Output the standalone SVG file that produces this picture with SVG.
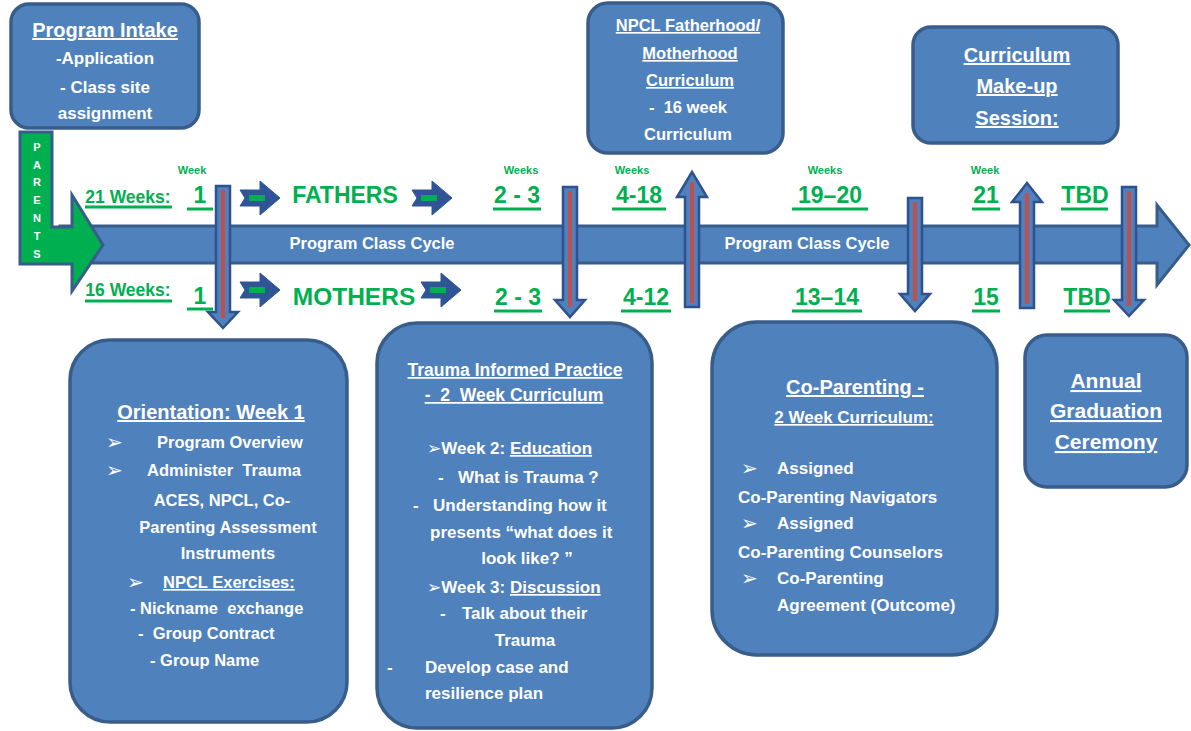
<svg xmlns="http://www.w3.org/2000/svg" width="1191" height="731" viewBox="0 0 1191 731">
<style>
.box{fill:#4f81bd;stroke:#385d8a;stroke-width:3.5}
.bt{font-family:"Liberation Sans",Arial,sans-serif;font-weight:bold;fill:#fff}
.u{text-decoration:underline}
.gl{font-family:"Liberation Sans",Arial,sans-serif;font-weight:bold;fill:#00b050}
.ul{stroke:#00b050;stroke-width:3}
.va{fill:#4f81bd;stroke:#2f528f;stroke-width:2.5}
.rl{stroke:#c0504d;stroke-width:4}
.sym{font-family:"DejaVu Sans",sans-serif;font-weight:normal}
.pre{white-space:pre}
</style>
<defs>
<g id="chev">
<path d="M0,-8 L20,-8 L20,-17 L40,0 L20,17 L20,8 L0,8 L5,0 Z" fill="#2f5597" stroke="#2f5597" stroke-width="1"/>
<rect x="9" y="-3" width="16" height="6" fill="#00b050"/>
</g>
</defs>
<rect width="1191" height="731" fill="#fff"/>

<g id="timeline">
<path d="M60,226 L1157,226 L1157,205 L1189,245 L1157,285 L1157,263 L60,263 Z" fill="#4f81bd" stroke="#385d8a" stroke-width="3"/>
<text class="bt" x="372" y="249" font-size="16.5" text-anchor="middle">Program Class Cycle</text>
<text class="bt" x="807" y="249" font-size="16.5" text-anchor="middle">Program Class Cycle</text>
</g>

<g id="parents">
<path d="M20,132 L52,132 L52,227 L72,227 L72,195 L103,245 L72,291 L72,264 L20,264 Z" fill="#00b050" stroke="#385d8a" stroke-width="3"/>
<g class="bt" font-size="11" text-anchor="middle">
<text x="37" y="151">P</text><text x="37" y="169">A</text><text x="37" y="186">R</text><text x="37" y="204">E</text><text x="37" y="222">N</text><text x="37" y="240">T</text><text x="37" y="258">S</text>
</g>
</g>

<g id="intake">
<rect class="box" x="11" y="4" width="188" height="124" rx="18"/>
<g class="bt" text-anchor="middle">
<text class="u" x="105" y="37" font-size="20">Program Intake</text>
<text x="105" y="64" font-size="17">-Application</text>
<text x="105" y="93" font-size="17">- Class site</text>
<text x="105" y="119" font-size="17">assignment</text>
</g>
</g>

<g id="npcl">
<rect class="box" x="588" y="3" width="195" height="150" rx="20"/>
<g class="bt" text-anchor="middle" font-size="16.5">
<text class="u" x="688" y="31">NPCL Fatherhood/</text>
<text class="u" x="690" y="59">Motherhood</text>
<text class="u" x="690" y="86">Curriculum</text>
<text class="pre" x="688" y="113" xml:space="preserve">-  16 week</text>
<text x="688" y="140">Curriculum</text>
</g>
</g>

<g id="makeup">
<rect class="box" x="913" y="27" width="205" height="116" rx="18"/>
<g class="bt" text-anchor="middle" font-size="20">
<text class="u" x="1017" y="62">Curriculum</text>
<text class="u" x="1017" y="93">Make-up</text>
<text class="u" x="1017" y="125">Session:</text>
</g>
</g>

<g id="labels">
<text class="gl" x="192" y="174" font-size="11" text-anchor="middle">Week</text>
<text class="gl" x="521" y="174" font-size="11" text-anchor="middle">Weeks</text>
<text class="gl" x="632" y="174" font-size="11" text-anchor="middle">Weeks</text>
<text class="gl" x="825" y="174" font-size="11" text-anchor="middle">Weeks</text>
<text class="gl" x="985" y="174" font-size="11" text-anchor="middle">Week</text>

<text class="gl" x="128" y="203" font-size="17.5" text-anchor="middle">21 Weeks:</text>
<text class="gl" x="200" y="203" font-size="23" text-anchor="middle">1</text>
<text class="gl" x="345" y="203" font-size="23" text-anchor="middle">FATHERS</text>
<text class="gl" x="517" y="203" font-size="23" text-anchor="middle">2 - 3</text>
<text class="gl" x="639" y="203" font-size="23" text-anchor="middle">4-18</text>
<text class="gl" x="830" y="203" font-size="23" text-anchor="middle">19–20</text>
<text class="gl" x="986" y="203" font-size="23" text-anchor="middle">21</text>
<text class="gl" x="1085" y="203" font-size="23" text-anchor="middle">TBD</text>

<text class="gl" x="128" y="296" font-size="17.5" text-anchor="middle">16 Weeks:</text>
<text class="gl" x="200" y="304" font-size="23" text-anchor="middle">1</text>
<text class="gl" x="354" y="305" font-size="24.5" text-anchor="middle">MOTHERS</text>
<text class="gl" x="518" y="305" font-size="23" text-anchor="middle">2 - 3</text>
<text class="gl" x="646" y="305" font-size="23" text-anchor="middle">4-12</text>
<text class="gl" x="827" y="305" font-size="23" text-anchor="middle">13–14</text>
<text class="gl" x="986" y="305" font-size="23" text-anchor="middle">15</text>
<text class="gl" x="1087" y="305" font-size="23" text-anchor="middle">TBD</text>

<g class="ul">
<line x1="85" y1="207" x2="172" y2="207"/>
<line x1="187" y1="209" x2="213" y2="209"/>
<line x1="493" y1="209" x2="541" y2="209"/>
<line x1="612" y1="209" x2="666" y2="209"/>
<line x1="792" y1="209" x2="868" y2="209"/>
<line x1="972" y1="209" x2="1000" y2="209"/>
<line x1="1061" y1="209" x2="1108" y2="209"/>
<line x1="85" y1="301" x2="172" y2="301"/>
<line x1="187" y1="309" x2="213" y2="309"/>
<line x1="494" y1="311" x2="542" y2="311"/>
<line x1="621" y1="311" x2="671" y2="311"/>
<line x1="792" y1="311" x2="862" y2="311"/>
<line x1="972" y1="311" x2="1000" y2="311"/>
<line x1="1064" y1="311" x2="1110" y2="311"/>
</g>
</g>

<g id="connectors">
<use href="#chev" x="240" y="198"/>
<use href="#chev" x="412" y="198"/>
<use href="#chev" x="240" y="290"/>
<use href="#chev" x="421" y="290"/>

<path class="va" d="M216,186 L230,186 L230,312 L238,312 L223,328 L208,312 L216,312 Z"/>
<line class="rl" x1="223" y1="190" x2="223" y2="318"/>
<path class="va" d="M563,187 L577,187 L577,300 L585,300 L570,317 L555,300 L563,300 Z"/>
<line class="rl" x1="570" y1="191" x2="570" y2="307"/>
<path class="va" d="M692,172 L707,197 L699,197 L699,307 L685,307 L685,197 L677,197 Z"/>
<line class="rl" x1="692" y1="182" x2="692" y2="303"/>
<path class="va" d="M908,198 L922,198 L922,294 L930,294 L915,311 L900,294 L908,294 Z"/>
<line class="rl" x1="915" y1="202" x2="915" y2="301"/>
<path class="va" d="M1027,183 L1042,202 L1034,202 L1034,308 L1020,308 L1020,202 L1012,202 Z"/>
<line class="rl" x1="1027" y1="193" x2="1027" y2="304"/>
<path class="va" d="M1122,187 L1136,187 L1136,300 L1144,300 L1129,316 L1114,300 L1122,300 Z"/>
<line class="rl" x1="1129" y1="191" x2="1129" y2="306"/>
</g>

<g id="orientation">
<rect class="box" x="70" y="340" width="277" height="382" rx="40"/>
<g class="bt" font-size="16.5">
<text class="u" x="211" y="419" font-size="20" text-anchor="middle">Orientation: Week 1</text>
<text class="sym" x="106" y="449" font-size="20">➢</text><text x="157" y="448">Program Overview</text>
<text class="sym" x="106" y="477" font-size="20">➢</text><text class="pre" x="147" y="476" xml:space="preserve">Administer  Trauma</text>
<text x="222" y="506" text-anchor="middle">ACES, NPCL, Co-</text>
<text x="228" y="533" text-anchor="middle">Parenting Assessment</text>
<text x="228" y="559" text-anchor="middle">Instruments</text>
<text class="sym" x="127" y="589" font-size="20">➢</text><text class="u" x="163" y="588">NPCL Exercises:</text>
<text class="pre" x="130" y="614" xml:space="preserve">- Nickname  exchange</text>
<text class="pre" x="138" y="639" xml:space="preserve">-  Group Contract</text>
<text x="150" y="666">- Group Name</text>
</g>
</g>

<g id="trauma">
<rect class="box" x="377" y="323" width="275" height="405" rx="40"/>
<g class="bt" font-size="17">
<text class="u" x="515" y="376" text-anchor="middle" font-size="17.5">Trauma Informed Practice</text>
<text class="u pre" x="514" y="401" text-anchor="middle" font-size="17.5" xml:space="preserve">-  2  Week Curriculum</text>
<text x="427" y="454"><tspan class="sym" font-size="17">➢</tspan>Week 2: <tspan class="u">Education</tspan></text>
<text x="438" y="483">-</text><text x="458" y="483">What is Trauma ?</text>
<text x="413" y="511">-</text><text x="433" y="511">Understanding how it</text>
<text x="430" y="538">presents “what does it</text>
<text x="527" y="564" text-anchor="middle">look like? ”</text>
<text x="427" y="593"><tspan class="sym" font-size="17">➢</tspan>Week 3: <tspan class="u">Discussion</tspan></text>
<text x="440" y="619">-</text><text x="462" y="619">Talk about their</text>
<text x="525" y="646" text-anchor="middle">Trauma</text>
<text x="387" y="673">-</text><text x="425" y="673">Develop case and</text>
<text x="425" y="699">resilience plan</text>
</g>
</g>

<g id="coparenting">
<rect class="box" x="712" y="322" width="285" height="333" rx="45"/>
<g class="bt" font-size="17">
<text class="u" x="855" y="394" font-size="20" text-anchor="middle">Co-Parenting -</text>
<text class="u" x="854" y="423" text-anchor="middle">2 Week Curriculum:</text>
<text class="sym" x="741" y="475" font-size="20">➢</text><text x="777" y="474">Assigned</text>
<text x="738" y="503">Co-Parenting Navigators</text>
<text class="sym" x="741" y="530" font-size="20">➢</text><text x="777" y="529">Assigned</text>
<text x="738" y="558">Co-Parenting Counselors</text>
<text class="sym" x="741" y="585" font-size="20">➢</text><text x="777" y="584">Co-Parenting</text>
<text x="777" y="611">Agreement (Outcome)</text>
</g>
</g>

<g id="graduation">
<rect class="box" x="1025" y="335" width="162" height="152" rx="22"/>
<g class="bt" font-size="21" text-anchor="middle">
<text class="u" x="1106" y="388">Annual</text>
<text class="u" x="1106" y="418">Graduation</text>
<text class="u" x="1106" y="449">Ceremony</text>
</g>
</g>
</svg>
